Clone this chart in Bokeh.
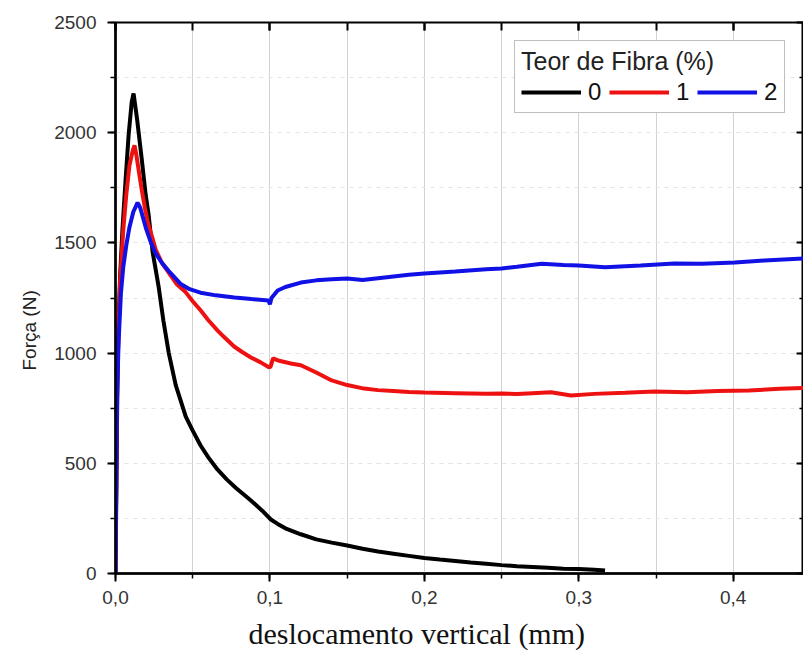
from bokeh.plotting import figure
from bokeh.models import (Range1d, SingleIntervalTicker, LinearAxis, Legend, LegendItem,
                          CustomJSTickFormatter, Title)
from bokeh.embed import file_html
from bokeh.resources import INLINE

# ---- data ----
# Teor de Fibra 0 %
desloc_0 = [0.0, 0.0006, 0.0012, 0.002, 0.003, 0.0045, 0.0065, 0.0085, 0.0105, 0.0117,
            0.014, 0.017, 0.0195, 0.0214, 0.024, 0.026, 0.028, 0.031, 0.0345, 0.039,
            0.0455, 0.05, 0.055, 0.06, 0.066, 0.072, 0.078, 0.0877, 0.095,
            0.1006, 0.105, 0.11, 0.12, 0.13, 0.14, 0.15, 0.16, 0.17, 0.18, 0.19, 0.2,
            0.21, 0.22, 0.23, 0.24, 0.25, 0.26, 0.27, 0.28, 0.29, 0.3, 0.31, 0.317]
forca_0 = [0, 400, 850, 1150, 1350, 1560, 1783, 1990, 2140, 2178,
           2060, 1880, 1720, 1630, 1460, 1380, 1298, 1148, 1000, 855,
           712, 648, 582, 528, 472, 427, 388, 331, 285,
           245, 225, 205, 178, 155, 140, 127, 112, 100, 90, 80, 70,
           63, 57, 50, 44, 38, 33, 30, 26, 22, 20, 17, 14]

# Teor de Fibra 1 %
desloc_1 = [0.0, 0.0006, 0.0012, 0.002, 0.003, 0.005, 0.007, 0.009, 0.0112, 0.0123,
            0.0135, 0.015, 0.017, 0.019, 0.021, 0.024, 0.026, 0.03, 0.035, 0.04,
            0.045, 0.05, 0.0552, 0.06, 0.066, 0.07, 0.0768, 0.082, 0.0877, 0.094,
            0.0996, 0.1005, 0.102, 0.106, 0.1136, 0.12, 0.13, 0.14, 0.15, 0.161, 0.17,
            0.18, 0.19, 0.2, 0.22, 0.24, 0.25, 0.26, 0.27, 0.282, 0.295, 0.31, 0.33,
            0.349, 0.37, 0.39, 0.41, 0.43, 0.447]
forca_1 = [0, 500, 900, 1120, 1329, 1556, 1720, 1850, 1920, 1942,
           1900, 1830, 1740, 1660, 1590, 1520, 1470, 1410, 1360, 1310,
           1280, 1235, 1193, 1150, 1103, 1075, 1030, 1005, 980, 958,
           935, 940, 976, 965, 953, 945, 912, 876, 855, 839, 832,
           828, 824, 821, 818, 815, 817, 814, 818, 822, 808, 815, 820,
           826, 822, 828, 830, 838, 842]

# Teor de Fibra 2 %
desloc_2 = [0.0, 0.0005, 0.001, 0.002, 0.0035, 0.005, 0.007, 0.009, 0.0115, 0.0143,
            0.016, 0.018, 0.02, 0.023, 0.026, 0.03, 0.0345, 0.042, 0.048, 0.055,
            0.065, 0.077, 0.088, 0.099, 0.1, 0.101, 0.105, 0.11, 0.12, 0.13,
            0.14, 0.15, 0.16, 0.17, 0.18, 0.19, 0.2, 0.22, 0.24, 0.25, 0.26, 0.276,
            0.29, 0.3, 0.317, 0.34, 0.362, 0.38, 0.401, 0.42, 0.447]
forca_2 = [0, 450, 800, 1050, 1270, 1388, 1490, 1570, 1640, 1683,
           1660, 1610, 1560, 1500, 1452, 1410, 1372, 1315, 1290, 1274,
           1262, 1252, 1245, 1239, 1222, 1250, 1284, 1300, 1320, 1330,
           1335, 1338, 1332, 1340, 1348, 1355, 1361, 1370, 1380, 1384, 1392, 1405,
           1400, 1397, 1390, 1398, 1406, 1405, 1411, 1420, 1430]

series_labels = ["0", "1", "2"]
legend_title = "Teor de Fibra (%)"
x_title = "deslocamento vertical (mm)"
y_title = "Força (N)"

X_END = 0.4455
Y_END = 2500

p = figure(width=803, height=657, output_backend="svg", toolbar_location=None,
           x_range=Range1d(0, X_END), y_range=Range1d(0, Y_END),
           min_border_left=115, min_border_right=0, min_border_top=22, min_border_bottom=84,
           background_fill_color="white", border_fill_color="white",
           outline_line_color="black", outline_line_width=2)

xt = SingleIntervalTicker(interval=0.1, num_minor_ticks=2)
yt = SingleIntervalTicker(interval=500, num_minor_ticks=2)

xa = p.below[0]
ya = p.left[0]
xa.ticker = xt
ya.ticker = yt
xa.formatter = CustomJSTickFormatter(code="return tick.toFixed(1).replace('.', ',')")

for ax in (xa, ya):
    ax.axis_line_width = 2.5
    ax.axis_line_color = "black"
    ax.major_tick_out = 8
    ax.major_tick_in = 0
    ax.minor_tick_out = 5
    ax.minor_tick_in = 0
    ax.major_tick_line_width = 2
    ax.minor_tick_line_width = 1.5
    ax.major_tick_line_color = "black"
    ax.minor_tick_line_color = "black"
    ax.major_label_text_font = "Liberation Sans"
    ax.major_label_text_font_size = "19px"
    ax.major_label_text_color = "#333333"
xa.major_label_standoff = 9
ya.major_label_standoff = 11

p.xgrid.ticker = xt
p.ygrid.ticker = yt
p.xgrid.grid_line_color = "#d2d2d2"
p.xgrid.minor_grid_line_color = "#d2d2d2"
p.xgrid.grid_line_width = 1
p.xgrid.minor_grid_line_width = 1
p.ygrid.grid_line_color = "#e4e4e4"
p.ygrid.minor_grid_line_color = "#e4e4e4"
p.ygrid.grid_line_dash = "4 5"
p.ygrid.minor_grid_line_dash = "4 5"

blank = CustomJSTickFormatter(code="return ''")
top_axis = LinearAxis(ticker=SingleIntervalTicker(interval=0.1, num_minor_ticks=2),
                      formatter=blank,
                      axis_line_alpha=0, major_tick_in=8, major_tick_out=0,
                      minor_tick_in=8, minor_tick_out=0, major_tick_line_width=2,
                      minor_tick_line_width=2, major_label_text_font_size="1px",
                      major_label_standoff=0)
p.add_layout(top_axis, "above")
right_axis = LinearAxis(ticker=SingleIntervalTicker(interval=500, num_minor_ticks=2),
                        formatter=blank,
                        axis_line_alpha=0, major_tick_in=7, major_tick_out=0,
                        minor_tick_in=4, minor_tick_out=0, major_tick_line_width=2,
                        minor_tick_line_width=1.5, major_label_text_font_size="1px",
                        major_label_standoff=0)
p.add_layout(right_axis, "right")

r0 = p.line(desloc_0, forca_0, line_color="black", line_width=4)
r1 = p.line(desloc_1, forca_1, line_color="#ee1111", line_width=4)
r2 = p.line(desloc_2, forca_2, line_color="#1111e6", line_width=4)

legend = Legend(items=[LegendItem(label=series_labels[0], renderers=[r0]),
                       LegendItem(label=series_labels[1], renderers=[r1]),
                       LegendItem(label=series_labels[2], renderers=[r2])],
                location="top_right", orientation="horizontal", title=legend_title,
                title_text_font="Liberation Sans", title_text_font_size="25px",
                title_text_font_style="normal", title_text_color="#222222",
                title_standoff=2,
                label_text_font="Liberation Sans", label_text_font_size="24px",
                label_text_color="#111111", label_standoff=7, label_width=14,
                glyph_width=60, glyph_height=20, spacing=7, padding=6, margin=18,
                border_line_color="#808080", border_line_width=1.5,
                background_fill_color="white", background_fill_alpha=1)
p.add_layout(legend)

p.add_layout(Title(text=x_title, align="left", offset=133, standoff=16,
                   text_font="Liberation Serif", text_font_size="30px",
                   text_font_style="normal", text_color="#111111"), "below")
p.add_layout(Title(text=y_title, align="left", offset=203, standoff=23,
                   text_font="Liberation Sans", text_font_size="19px",
                   text_font_style="normal", text_color="#222222"), "left")

open("out.html", "w").write(file_html(p, INLINE))
